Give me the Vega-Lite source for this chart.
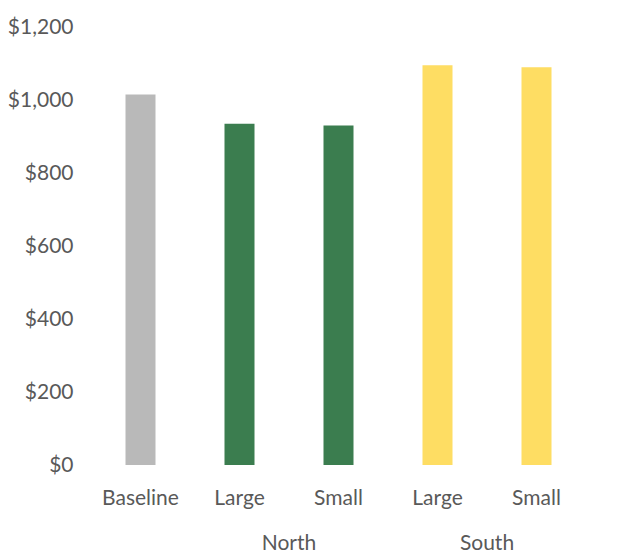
{
  "$schema": "https://vega.github.io/schema/vega-lite/v6.json",
  "padding": {"left": 7, "top": 16, "right": 0, "bottom": 0},
  "background": "white",
  "config": {
    "view": {"stroke": null},
    "font": "Lato",
    "axis": {"labelFont": "Lato", "labelColor": "#595959", "labelFontSize": 21},
    "header": {"labelFont": "Lato", "labelColor": "#595959", "labelFontSize": 21}
  },
  "data": {
    "values": [
      {"region": "Baseline", "size": "Baseline", "cost": 1015},
      {"region": "North", "size": "Large", "cost": 935},
      {"region": "North", "size": "Small", "cost": 930},
      {"region": "South", "size": "Large", "cost": 1095},
      {"region": "South", "size": "Small", "cost": 1090}
    ]
  },
  "facet": {
    "column": {
      "field": "region",
      "type": "nominal",
      "sort": ["Baseline", "North", "South"],
      "title": null,
      "header": {
        "labelOrient": "bottom",
        "labelPadding": 25,
        "labelExpr": "datum.value == 'Baseline' ? '' : datum.value"
      }
    }
  },
  "spacing": 0,
  "resolve": {"scale": {"x": "independent"}},
  "spec": {
    "width": {"step": 99},
    "height": 438,
    "mark": {"type": "bar", "width": 30},
    "encoding": {
      "x": {
        "field": "size",
        "type": "nominal",
        "sort": ["Baseline", "Large", "Small"],
        "scale": {"paddingInner": 0.68, "paddingOuter": 0.34},
        "axis": {
          "title": null,
          "domain": false,
          "ticks": false,
          "labelAngle": 0,
          "labelPadding": 22
        }
      },
      "y": {
        "field": "cost",
        "type": "quantitative",
        "scale": {"domain": [0, 1200]},
        "axis": {
          "title": null,
          "domain": false,
          "ticks": false,
          "grid": false,
          "values": [0, 200, 400, 600, 800, 1000, 1200],
          "format": "$,.0f",
          "labelPadding": 18
        }
      },
      "color": {
        "field": "region",
        "type": "nominal",
        "scale": {
          "domain": ["Baseline", "North", "South"],
          "range": ["#b9b9b9", "#3b7d4f", "#fedd63"]
        },
        "legend": null
      }
    }
  }
}
